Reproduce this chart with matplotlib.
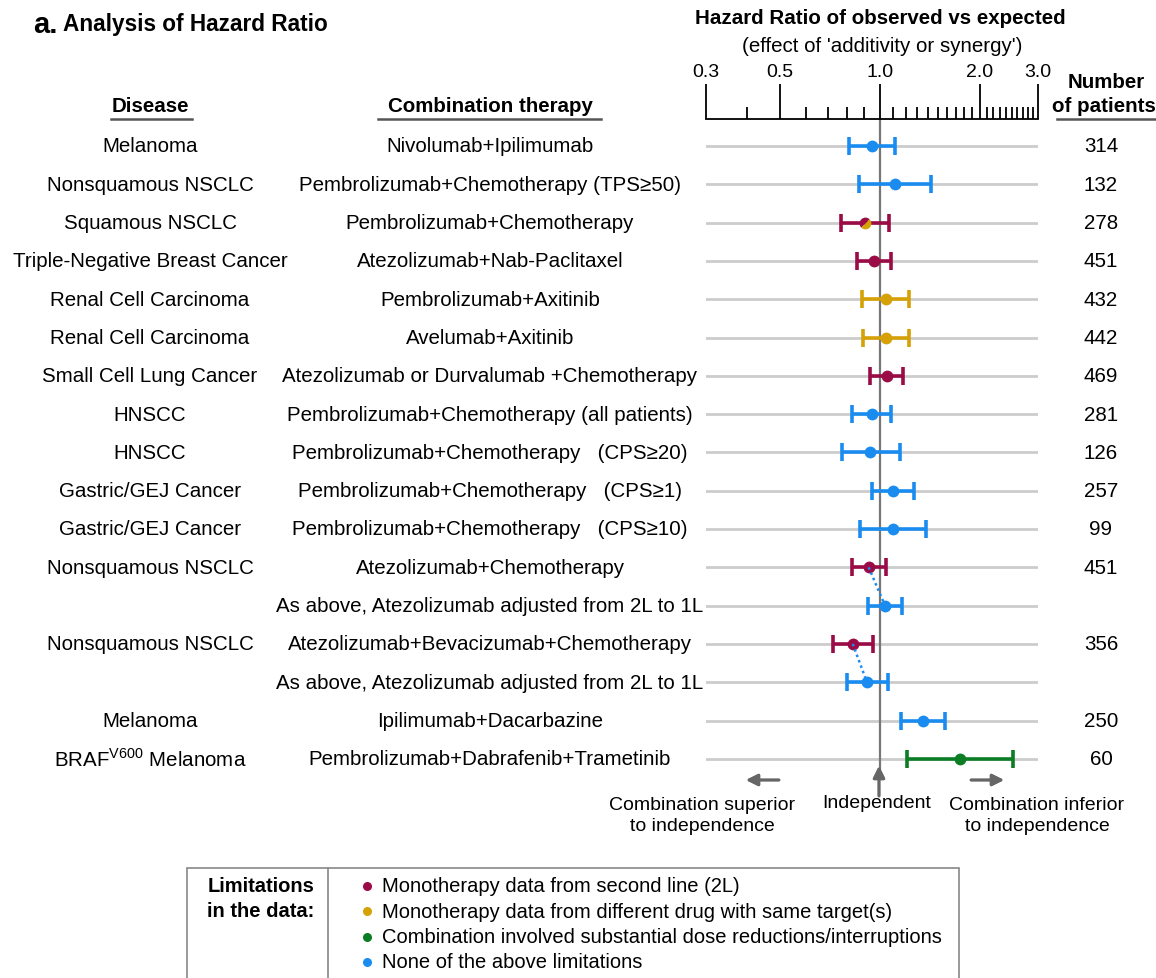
import matplotlib
matplotlib.use("Agg")
import matplotlib.pyplot as plt
import matplotlib.transforms as mtransforms
from matplotlib.markers import MarkerStyle
from matplotlib.patches import Rectangle
from matplotlib.lines import Line2D

plt.rcParams['font.family'] = ['Liberation Sans', 'DejaVu Sans']
plt.rcParams['mathtext.fontset'] = 'custom'
plt.rcParams['mathtext.rm'] = 'Liberation Sans'

# data
diseases = ["Melanoma", "Nonsquamous NSCLC", "Squamous NSCLC", "Triple-Negative Breast Cancer",
            "Renal Cell Carcinoma", "Renal Cell Carcinoma", "Small Cell Lung Cancer", "HNSCC", "HNSCC",
            "Gastric/GEJ Cancer", "Gastric/GEJ Cancer", "Nonsquamous NSCLC", "",
            "Nonsquamous NSCLC", "", "Melanoma", r"BRAF$^{\mathregular{V600}}$ Melanoma"]
therapies = ["Nivolumab+Ipilimumab",
             "Pembrolizumab+Chemotherapy (TPS≥50)",
             "Pembrolizumab+Chemotherapy",
             "Atezolizumab+Nab-Paclitaxel",
             "Pembrolizumab+Axitinib",
             "Avelumab+Axitinib",
             "Atezolizumab or Durvalumab +Chemotherapy",
             "Pembrolizumab+Chemotherapy (all patients)",
             "Pembrolizumab+Chemotherapy   (CPS≥20)",
             "Pembrolizumab+Chemotherapy   (CPS≥1)",
             "Pembrolizumab+Chemotherapy   (CPS≥10)",
             "Atezolizumab+Chemotherapy",
             "As above, Atezolizumab adjusted from 2L to 1L",
             "Atezolizumab+Bevacizumab+Chemotherapy",
             "As above, Atezolizumab adjusted from 2L to 1L",
             "Ipilimumab+Dacarbazine",
             "Pembrolizumab+Dabrafenib+Trametinib"]
patients = ["314", "132", "278", "451", "432", "442", "469", "281", "126", "257", "99", "451", "",
            "356", "", "250", "60"]
hr = [0.947, 1.11, 0.904, 0.962, 1.043, 1.043, 1.05, 0.947, 0.937, 1.095, 1.095, 0.927, 1.038,
      0.83, 0.916, 1.349, 1.747]
lo = [0.81, 0.865, 0.764, 0.853, 0.883, 0.889, 0.937, 0.826, 0.769, 0.949, 0.871, 0.824, 0.921,
      0.722, 0.797, 1.162, 1.206]
hi = [1.113, 1.43, 1.067, 1.085, 1.229, 1.229, 1.179, 1.082, 1.152, 1.267, 1.38, 1.043, 1.168,
      0.955, 1.057, 1.574, 2.53]
limitation = ["none", "none", "2L", "2L", "target", "target", "2L", "none", "none", "none", "none",
              "2L", "none", "2L", "none", "none", "dose"]
split_rows = {2: "target"}          # marker half coloured with a second limitation
adjusted_pairs = [(11, 12), (13, 14)]

colors = {"2L": "#9B0B45", "target": "#D6A106", "dose": "#0B7D25", "none": "#1A8CF0"}
legend_labels = ["Monotherapy data from second line (2L)",
                 "Monotherapy data from different drug with same target(s)",
                 "Combination involved substantial dose reductions/interruptions",
                 "None of the above limitations"]
legend_keys = ["2L", "target", "dose", "none"]

W, H = 1156, 979
fig = plt.figure(figsize=(W / 100, H / 100), dpi=100)


def fx(px):
    return px / W


def fy(py):
    return 1 - py / H


row0, step = 147, 38.3
top_px, bot_px = 120, 840
ax = fig.add_axes([fx(706), fy(bot_px), fx(1038) - fx(706), (bot_px - top_px) / H])
n = len(hr)
ax.set_xscale("log")
ax.set_xlim(0.3, 3.0)
ax.set_ylim((bot_px - row0) / step, (top_px - row0) / step)
for s in ["left", "right", "bottom"]:
    ax.spines[s].set_visible(False)
ax.spines["top"].set_linewidth(1.3)
ax.yaxis.set_visible(False)
ax.xaxis.tick_top()
ax.set_xticks([0.3, 0.5, 1.0, 2.0, 3.0])
ax.set_xticklabels(["0.3", "0.5", "1.0", "2.0", "3.0"])
minor = [0.4, 0.6, 0.7, 0.8, 0.9] + [1 + 0.1 * k for k in range(1, 10)] + [2 + 0.1 * k for k in range(1, 10)]
ax.set_xticks(minor, minor=True)
ax.xaxis.set_minor_formatter(plt.NullFormatter())
ax.tick_params(axis="x", which="major", length=25, width=1.3, pad=3, labelsize=14)
ax.tick_params(axis="x", which="minor", length=9, width=1.3)

ys = list(range(n))
for y in ys:
    ax.axhline(y, color="#cccccc", lw=2, zorder=1)
ax.plot([1, 1], [(top_px - row0) / step, (770 - row0) / step], color="#777777", lw=1.6, zorder=2)

for i in range(n):
    c = colors[limitation[i]]
    ax.errorbar(hr[i], i, xerr=[[hr[i] - lo[i]], [hi[i] - hr[i]]], fmt="none", ecolor=c,
                elinewidth=2.6, capsize=6.5, capthick=2.6, zorder=3)
    if i in split_rows:
        ms = MarkerStyle("o", fillstyle="top", transform=mtransforms.Affine2D().rotate_deg(45))
        ax.plot(hr[i], i, marker=ms, ms=8.5, markerfacecolor=c,
                markerfacecoloralt=colors[split_rows[i]], markeredgewidth=0, ls="none", zorder=4)
    else:
        ax.plot(hr[i], i, "o", ms=8.5, color=c, markeredgewidth=0, zorder=4)

for a, b in adjusted_pairs:
    ax.plot([hr[a], hr[b]], [a, b], ls=(0, (1, 1.3)), color=colors["none"], lw=1.8, zorder=5)

# row text
tr = mtransforms.blended_transform_factory(fig.transFigure, ax.transData)
fs = 14.8
for i in range(n):
    ax.text(fx(150), i, diseases[i], transform=tr, ha="center", va="center", fontsize=fs)
    ax.text(fx(490), i, therapies[i], transform=tr, ha="center", va="center", fontsize=fs)
    ax.text(fx(1101), i, patients[i], transform=tr, ha="center", va="center", fontsize=fs)

# headers
hfs = 14.8
fig.text(fx(33), fy(25), "a.", fontsize=21, fontweight="bold", ha="left", va="center")
fig.text(fx(63), fy(25), "Analysis of Hazard Ratio", fontsize=16.3, fontweight="bold", ha="left", va="center")
fig.text(fx(880), fy(18), "Hazard Ratio of observed vs expected", fontsize=hfs, fontweight="bold",
         ha="center", va="center")
fig.text(fx(882), fy(46), "(effect of 'additivity or synergy')", fontsize=hfs, ha="center", va="center")
fig.text(fx(150), fy(106), "Disease", fontsize=hfs, fontweight="bold", ha="center", va="center")
fig.text(fx(490), fy(106), "Combination therapy", fontsize=hfs, fontweight="bold", ha="center", va="center")
fig.text(fx(1106), fy(83), "Number", fontsize=hfs, fontweight="bold", ha="center", va="center")
fig.text(fx(1104), fy(106), "of patients", fontsize=hfs, fontweight="bold", ha="center", va="center")
for x0, x1 in [(111, 192), (378, 601), (1057, 1156)]:
    fig.add_artist(Line2D([fx(x0), fx(x1)], [fy(120), fy(120)], color="#555555", lw=1.8))

# arrows and direction labels
gray = "#666666"
arr = dict(arrowstyle="-|>,head_length=0.7,head_width=0.35", color=gray, lw=2, shrinkA=0, shrinkB=0)
fig.add_artist(plt.annotate("", xy=(fx(746), fy(781)), xytext=(fx(779), fy(781)),
                            xycoords="figure fraction", arrowprops=arr))
fig.add_artist(plt.annotate("", xy=(fx(1004), fy(781)), xytext=(fx(971), fy(781)),
                            xycoords="figure fraction", arrowprops=arr))
fig.add_artist(plt.annotate("", xy=(fx(879), fy(767)), xytext=(fx(879), fy(797)),
                            xycoords="figure fraction", arrowprops=arr))
bfs = 14
fig.text(fx(702), fy(816), "Combination superior\nto independence", fontsize=bfs, ha="center",
         va="center", linespacing=1.25)
fig.text(fx(877), fy(804), "Independent", fontsize=bfs, ha="center", va="center")
fig.text(fx(1037), fy(816), "Combination inferior\nto independence", fontsize=bfs, ha="center",
         va="center", linespacing=1.25)

# limitations box
fig.add_artist(Rectangle((fx(187), fy(990)), fx(959) - fx(187), fy(869) - fy(990),
                         transform=fig.transFigure, fill=False, ec="#888888", lw=1.2))
fig.add_artist(Line2D([fx(328), fx(328)], [fy(869), fy(990)], color="#888888", lw=1.2))
fig.text(fx(261), fy(887), "Limitations", fontsize=14.5, fontweight="bold", ha="center", va="center")
fig.text(fx(261), fy(912), "in the data:", fontsize=14.5, fontweight="bold", ha="center", va="center")
for k, key in enumerate(legend_keys):
    yy = fy(887 + 25.3 * k)
    fig.add_artist(Line2D([fx(367)], [yy], marker="o", ms=6.5, color=colors[key], markeredgewidth=0))
    fig.text(fx(382), yy, legend_labels[k], fontsize=14.5, ha="left", va="center")

fig.savefig("out.png", dpi=100)
